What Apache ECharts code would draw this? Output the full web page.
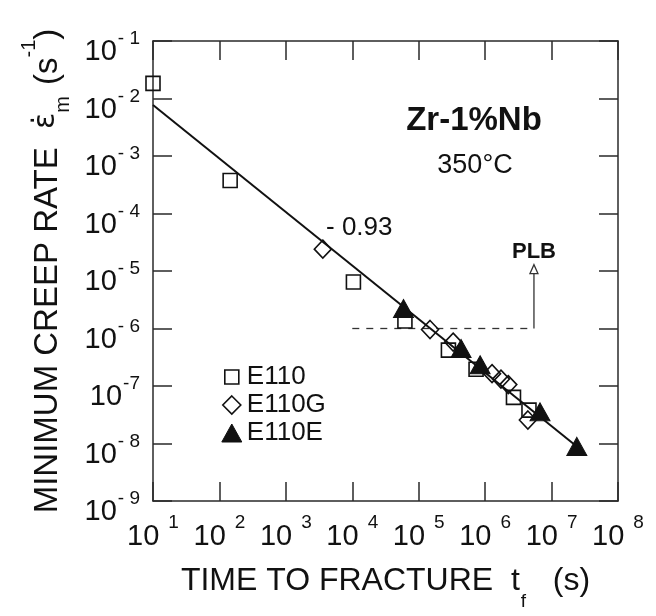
<!DOCTYPE html>
<html><head><meta charset="utf-8">
<script src="https://cdn.jsdelivr.net/npm/echarts@6/dist/echarts.min.js"></script>
<style>html,body{margin:0;padding:0;background:#fff}#c{width:656px;height:616px}</style>
</head><body><div id="c"></div>
<script>
// ---- data ----
const xExponents = [1, 2, 3, 4, 5, 6, 7, 8];
const xTickSup = ['1', '2', '3', '4', '5', '6', '7', '8'];
const yExponents = [-9, -8, -7, -6, -5, -4, -3, -2, -1];
const yTickSup = ['- 9', '- 8', '-7', '- 6', '- 5', '- 4', '- 3', '- 2', '- 1'];

const seriesNames = ['E110', 'E110G', 'E110E'];
const e110 = [[10, 1.83e-2], [145, 3.75e-4], [1.04e4, 6.45e-6], [6.2e4, 1.35e-6], [2.8e5, 4.2e-7], [7.3e5, 1.96e-7], [2.67e6, 6.35e-8], [4.57e6, 3.8e-8]];
const e110g = [[3.6e3, 2.4e-5], [1.48e5, 9.6e-7], [3.3e5, 5.8e-7], [1.27e6, 1.64e-7], [1.73e6, 1.32e-7], [2.23e6, 1.06e-7], [4.4e6, 2.56e-8]];
const e110e = [[5.9e4, 2.23e-6], [4.34e5, 4.5e-7], [8.4e5, 2.34e-7], [6.7e6, 3.55e-8], [2.4e7, 8.9e-9]];
const fitLine = [[10, 7.7e-3], [2.4e7, 8.9e-9]];
const plbLine = [[1e4, 1e-6], [5.43e6, 1e-6]];
const plbArrow = [[5.43e6, 1e-6], [5.43e6, 1.08e-5]];

// ---- chart ----
const FONT = 'Liberation Sans, Arial, sans-serif';
const INK = '#111';
const AX = '#2a2a2a';
const chart = echarts.init(document.getElementById('c'), null, { renderer: 'canvas' });

function expOf(v) { return Math.round(Math.log10(v)); }

const axisBase = {
  type: 'log', logBase: 10,
  axisLine: { show: true, lineStyle: { color: AX, width: 1.5 } },
  axisTick: { show: true, inside: true, length: 19, lineStyle: { color: AX, width: 1.5 } },
  splitLine: { show: false },
  minorTick: { show: false }
};

const hollow = { color: 'transparent', borderColor: INK, borderWidth: 1.6, opacity: 1 };
const filled = { color: INK, borderColor: INK, borderWidth: 1, opacity: 1 };

const option = {
  animation: false,
  backgroundColor: '#fff',
  textStyle: { fontFamily: FONT, color: INK },
  grid: { left: 153, top: 41, width: 465, height: 466, containLabel: false },
  xAxis: [
    Object.assign({}, axisBase, {
      min: 10, max: 1e8, position: 'bottom',
      axisLabel: {
        show: true, margin: 7, showMinLabel: true, showMaxLabel: true,
        formatter: function (v) {
          const i = xExponents.indexOf(expOf(v));
          return '{b|10}{s|' + (i >= 0 ? xTickSup[i] : '') + '}';
        },
        rich: {
          b: { fontSize: 29, lineHeight: 29, padding: [14, 0, 0, 0], verticalAlign: 'top', fontFamily: FONT, color: INK },
          s: { fontSize: 19, lineHeight: 19, padding: [5, 0, 0, 9], verticalAlign: 'top', fontFamily: FONT, color: INK }
        }
      },
      name: '{a|TIME TO FRACTURE  t}{sub|f}{a|   (s)}',
      nameLocation: 'middle', nameGap: 64,
      nameTextStyle: {
        rich: {
          a: { fontSize: 32, lineHeight: 32, verticalAlign: 'top', fontFamily: FONT, color: INK },
          sub: { fontSize: 19, lineHeight: 19, padding: [27, 0, 0, 1], verticalAlign: 'top', fontFamily: FONT, color: INK }
        }
      }
    }),
    Object.assign({}, axisBase, {
      min: 10, max: 1e8, position: 'top', axisLabel: { show: false }
    })
  ],
  yAxis: [
    Object.assign({}, axisBase, {
      min: 1e-9, max: 1e-1, position: 'left',
      axisLabel: {
        show: true, margin: 13, showMinLabel: true, showMaxLabel: true,
        formatter: function (v) {
          const i = yExponents.indexOf(expOf(v));
          return '{b|10}{s|' + (i >= 0 ? yTickSup[i] : '') + '}';
        },
        rich: {
          b: { fontSize: 29, lineHeight: 29, padding: [11, 0, 0, 0], verticalAlign: 'top', fontFamily: FONT, color: INK },
          s: { fontSize: 19, lineHeight: 19, padding: [3, 0, 0, 1], verticalAlign: 'top', fontFamily: FONT, color: INK }
        }
      },
      name: '{a|MINIMUM CREEP RATE  }{e|\u03B5\u0307}{sub|m}{a| (s}{sup|-1}{a|)}',
      nameLocation: 'middle', nameRotate: 90, nameGap: 78,
      nameTextStyle: {
        rich: {
          a: { fontSize: 33, lineHeight: 33, padding: [12, 0, 0, 0], verticalAlign: 'top', fontFamily: FONT, color: INK },
          e: { fontSize: 30, lineHeight: 33, padding: [12, 0, 0, 0], verticalAlign: 'top', fontFamily: 'DejaVu Sans', color: INK },
          sup: { fontSize: 20, lineHeight: 20, padding: [0, 0, 0, 0], verticalAlign: 'top', fontFamily: FONT, color: INK },
          sub: { fontSize: 20, lineHeight: 20, padding: [34, 2, 0, 0], verticalAlign: 'top', fontFamily: FONT, color: INK }
        }
      }
    }),
    Object.assign({}, axisBase, {
      min: 1e-9, max: 1e-1, position: 'right', axisLabel: { show: false }
    })
  ],
  legend: {
    orient: 'vertical', left: 216, top: 359,
    itemWidth: 20, itemHeight: 18, itemGap: 2, itemTextGap: 18,
    selectedMode: false,
    textStyle: { fontSize: 26, fontFamily: FONT, color: INK },
    data: [
      { name: seriesNames[0], icon: 'path://M0,0M3,2L17,2L17,16L3,16ZM20,18', itemStyle: hollow },
      { name: seriesNames[1], icon: 'path://M0,0M10,0L19,9L10,18L1,9ZM20,18', itemStyle: hollow },
      { name: seriesNames[2], icon: 'triangle', itemStyle: filled }
    ]
  },
  graphic: [
    { type: 'text', x: 474, y: 121, style: { text: 'Zr-1%Nb', fontSize: 33, fontWeight: 'bold', fontFamily: FONT, fill: INK, align: 'center', verticalAlign: 'middle' } },
    { type: 'text', x: 475, y: 166, style: { text: '350\u00B0C', fontSize: 27, fontFamily: FONT, fill: INK, align: 'center', verticalAlign: 'middle' } },
    { type: 'text', x: 326, y: 228, style: { text: '- 0.93', fontSize: 26, fontFamily: FONT, fill: INK, align: 'left', verticalAlign: 'middle' } },
    { type: 'text', x: 534, y: 252, style: { text: 'PLB', fontSize: 22, fontWeight: 'bold', fontFamily: FONT, fill: INK, align: 'center', verticalAlign: 'middle' } }
  ],
  series: [
    { type: 'line', name: 'fit', data: fitLine, symbol: 'none', silent: true, z: 2,
      lineStyle: { color: INK, width: 2 } },
    { type: 'line', name: 'plb', data: plbLine, symbol: 'none', silent: true, z: 2,
      lineStyle: { color: '#333', width: 1.3, type: [7, 7] } },
    { type: 'line', name: 'plbArrow', silent: true, z: 2,
      data: [
        { value: plbArrow[0], symbol: 'none' },
        { value: plbArrow[1], symbol: 'triangle', symbolSize: [8, 9] }
      ],
      showSymbol: true,
      itemStyle: { color: '#fff', borderColor: '#333', borderWidth: 1.3 },
      lineStyle: { color: '#333', width: 1.3 } },
    { type: 'scatter', name: seriesNames[0], data: e110, symbol: 'rect', symbolSize: 14, z: 3,
      itemStyle: hollow },
    { type: 'scatter', name: seriesNames[1], data: e110g, symbol: 'diamond', symbolSize: [17, 18], z: 4,
      itemStyle: hollow },
    { type: 'scatter', name: seriesNames[2], data: e110e, symbol: 'triangle', symbolSize: [20, 18], z: 5,
      itemStyle: filled }
  ]
};
chart.setOption(option);
</script>
</body></html>
